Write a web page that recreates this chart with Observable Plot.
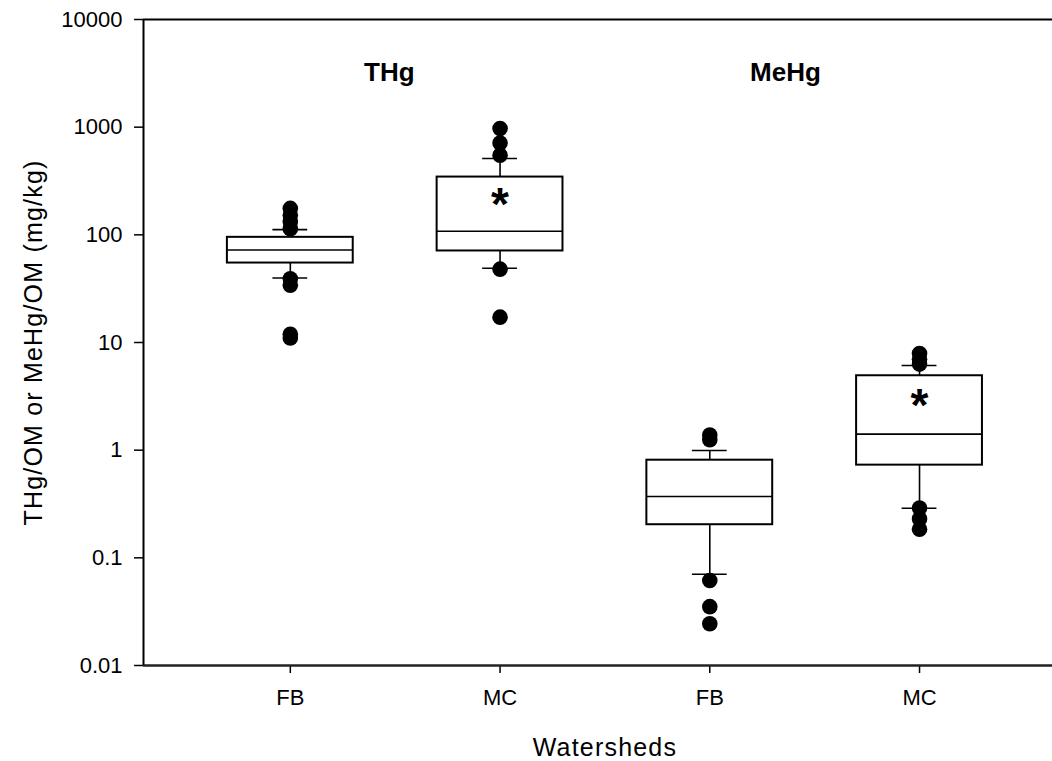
<!DOCTYPE html>
<html>
<head>
<meta charset="utf-8">
<script src="https://cdn.jsdelivr.net/npm/d3@7"></script>
<script src="https://cdn.jsdelivr.net/npm/@observablehq/plot@0.6"></script>
<style>
  html, body { margin: 0; padding: 0; background: white; }
  #chart { width: 1052px; height: 761px; }
</style>
</head>
<body>
<div id="chart"></div>
<script>
// ---- data ----
const groups = ["THg", "THg", "MeHg", "MeHg"];
const sites = ["FB", "MC", "FB", "MC"];
const positions = [1, 2, 3, 4];
const whiskerLow = [39.7, 49, 0.0705, 0.289];
const q1 = [54.7, 70.8, 0.203, 0.726];
const median = [72.3, 108, 0.371, 1.41];
const q3 = [94.8, 344, 0.807, 4.91];
const whiskerHigh = [111.7, 511, 0.993, 6.12];

const outlierPos = [1, 1, 1, 1, 1, 1, 1, 1, 2, 2, 2, 2, 2, 3, 3, 3, 3, 3, 4, 4, 4, 4, 4, 4];
const outlierValue = [176, 152, 132, 114, 39, 34, 11.9, 11.0,
                      970, 713, 548, 48, 17.2,
                      1.38, 1.25, 0.0615, 0.0352, 0.0244,
                      7.9, 7.0, 6.3, 0.29, 0.23, 0.184];

const starPos = [2, 4];
const starValue = [217, 3.0];

const groupLabels = ["THg", "MeHg"];
const groupLabelPos = [1.472, 3.361];
const groupLabelValue = [3200, 3200];

const yTicks = [0.01, 0.1, 1, 10, 100, 1000, 10000];
const yTitle = "THg/OM or MeHg/OM (mg/kg)";
const xTitle = "Watersheds";

// ---- tables ----
const boxes = positions.map((p, i) => ({
  p, site: sites[i], group: groups[i],
  lo: whiskerLow[i], q1: q1[i], med: median[i], q3: q3[i], hi: whiskerHigh[i]
}));
const outliers = outlierPos.map((p, i) => ({p, v: outlierValue[i]}));
const stars = starPos.map((p, i) => ({p, v: starValue[i]}));
const labels = groupLabels.map((t, i) => ({t, p: groupLabelPos[i], v: groupLabelValue[i]}));

const hw = 0.3;   // box half width
const cw = 0.083; // cap half width
const font = "'Liberation Sans', Arial, sans-serif";

const plot = Plot.plot({
  width: 1052,
  height: 761,
  marginLeft: 143,
  marginRight: 0,
  marginTop: 19,
  marginBottom: 96,
  x: {domain: [0.3, 4.634]},
  y: {type: "log", domain: [0.01, 10000]},
  style: {fontFamily: font, fontSize: "22px", color: "black", background: "white", overflow: "visible"},
  marks: [
    Plot.axisY({ticks: yTicks, tickFormat: d => String(d), tickSize: 9, tickPadding: 12, strokeWidth: 1.5, fontSize: 22, label: null}),
    Plot.axisX({ticks: positions, tickFormat: d => sites[d - 1], tickSize: 8, tickPadding: 16, strokeWidth: 1.5, fontSize: 22, label: null}),
    // frame lines
    Plot.ruleY([10000], {stroke: "black", strokeWidth: 2}),
    Plot.ruleY([0.01], {stroke: "#222", strokeWidth: 2.5}),
    Plot.ruleX([0.3], {stroke: "black", strokeWidth: 2}),
    // whiskers
    Plot.ruleX(boxes, {x: "p", y1: "q3", y2: "hi", stroke: "black", strokeWidth: 1.6}),
    Plot.ruleX(boxes, {x: "p", y1: "lo", y2: "q1", stroke: "black", strokeWidth: 1.6}),
    Plot.ruleY(boxes, {y: "hi", x1: d => d.p - cw, x2: d => d.p + cw, stroke: "black", strokeWidth: 1.6}),
    Plot.ruleY(boxes, {y: "lo", x1: d => d.p - cw, x2: d => d.p + cw, stroke: "black", strokeWidth: 1.6}),
    // boxes
    Plot.rect(boxes, {x1: d => d.p - hw, x2: d => d.p + hw, y1: "q1", y2: "q3", fill: "white", stroke: "black", strokeWidth: 2}),
    Plot.ruleY(boxes, {y: "med", x1: d => d.p - hw, x2: d => d.p + hw, stroke: "black", strokeWidth: 1.6}),
    // outliers
    Plot.dot(outliers, {x: "p", y: "v", r: 7.8, fill: "black", stroke: null}),
    // stars
    Plot.text(stars, {x: "p", y: "v", text: () => "*", fontSize: 46, fontWeight: "bold", dy: 7, fill: "black", fontFamily: font}),
    // group labels
    Plot.text(labels, {x: "p", y: "v", text: "t", fontSize: 26, fontWeight: "bold", fill: "black", fontFamily: font}),
    // axis titles
    Plot.text([xTitle], {x: [2.5], frameAnchor: "bottom", dy: 82, lineAnchor: "middle", textAnchor: "middle", text: d => d, fontSize: 25, fill: "black", fontFamily: font}),
    Plot.text([yTitle], {frameAnchor: "left", dx: -110, rotate: -90, textAnchor: "middle", lineAnchor: "middle", text: d => d, fontSize: 25, fill: "black", fontFamily: font})
  ]
});

d3.select(plot).selectAll("text").filter(function() {
  return this.textContent === xTitle || this.textContent === yTitle;
}).attr("letter-spacing", "1.2px");

document.getElementById("chart").appendChild(plot);
</script>
</body>
</html>
